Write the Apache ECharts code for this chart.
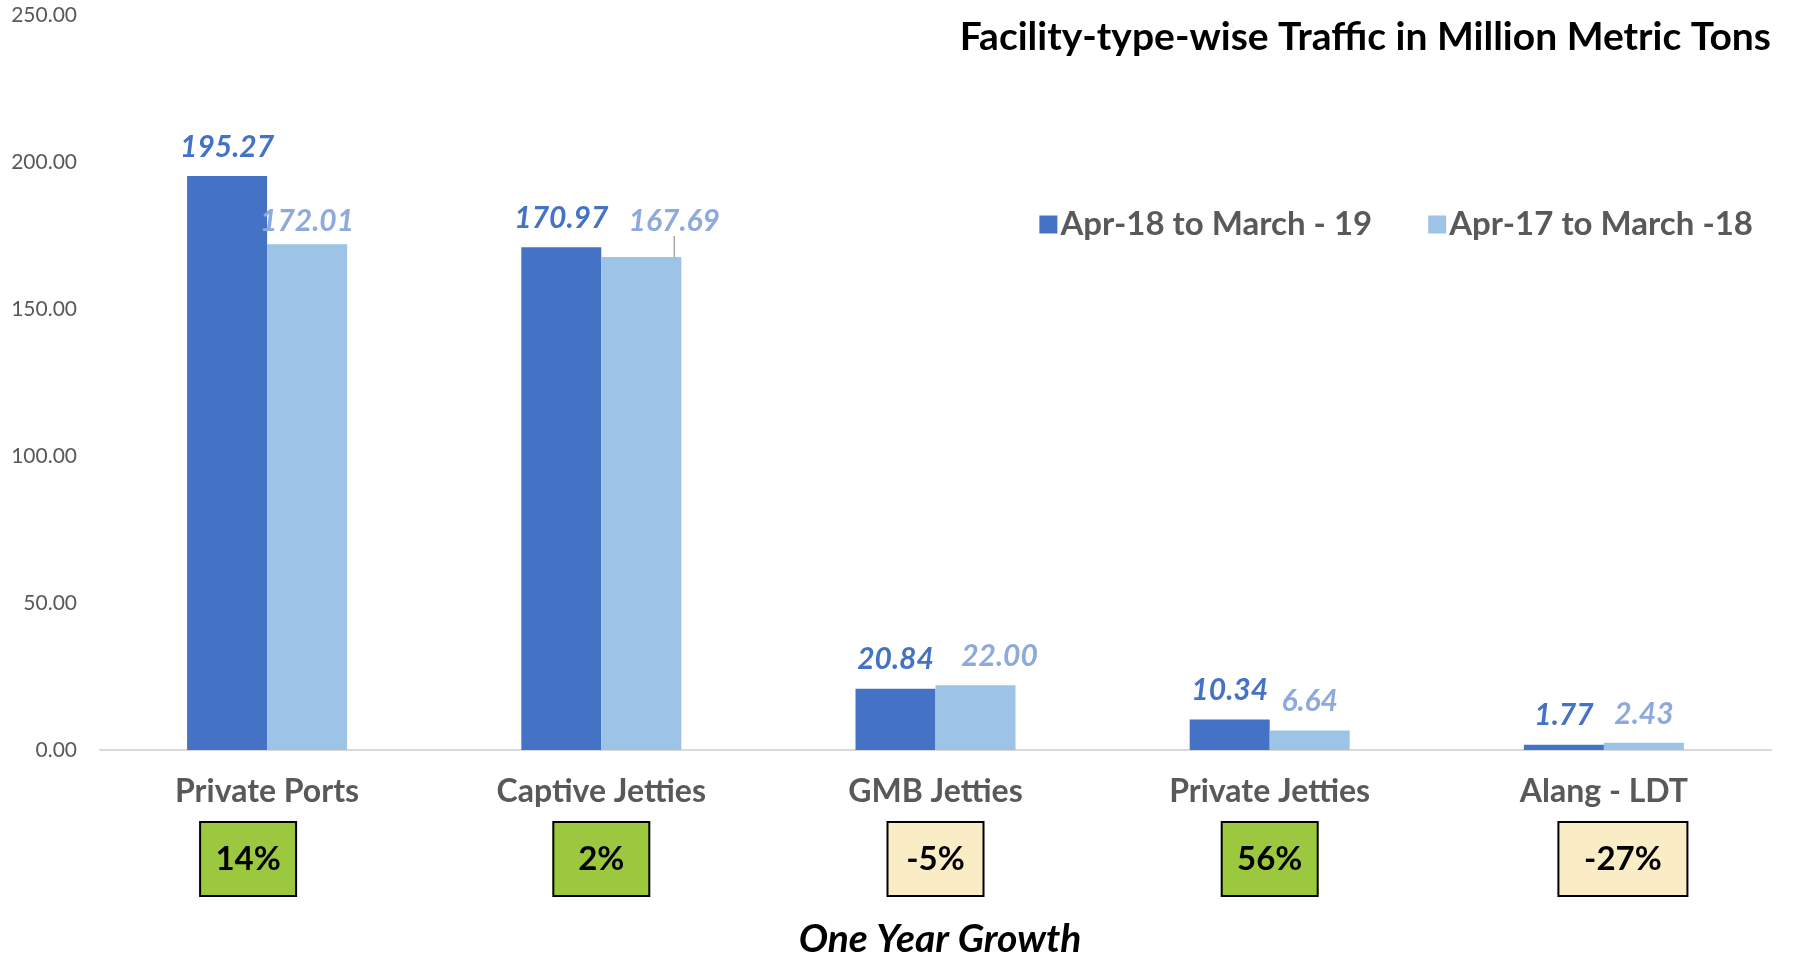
<!DOCTYPE html>
<html>
<head>
<meta charset="utf-8">
<script src="https://cdn.jsdelivr.net/npm/echarts@6/dist/echarts.min.js"></script>
<style>
	html, body { margin: 0; padding: 0; background: #fff; }
	#chart { width: 1794px; height: 954px; }
</style>
</head>
<body>
<div id="chart"></div>
<script>
// chart data
var categories = ['Private Ports', 'Captive Jetties', 'GMB Jetties', 'Private Jetties', 'Alang - LDT'];
var seriesNames = ['Apr-18 to March - 19', 'Apr-17 to March -18'];
var current = [195.27, 170.97, 20.84, 10.34, 1.77];
var previous = [172.01, 167.69, 22.00, 6.64, 2.43];
var growth = ['14%', '2%', '-5%', '56%', '-27%'];
var yTicks = [0, 50, 100, 150, 200, 250];

var FONT = 'Lato';
var darkBlue = '#4472C4', lightBlue = '#9DC3E6';

// growth box label, green when positive, cream when negative
function growthLabel(val, idx) {
	var key = val.charAt(0) == '-' ? (val.length > 3 ? 'w' : 'y') : 'g';
	var txt = '{' + key + '|' + val + '}';
	if (idx == 0) txt = txt + '{s|}';
	if (idx == categories.length - 1) txt = '{s|}' + txt;
	return txt;
}

var boxStyle = function(bg, w) {
	return {
		backgroundColor: bg, borderColor: '#000', borderWidth: 2,
		width: w, height: 72, align: 'center', verticalAlign: 'middle',
		fontFamily: FONT, fontWeight: 'bold', fontSize: 33, color: '#000'
	};
};

// only the Captive Jetties label of the old period has a leader line
var previousData = previous.map(function(v, i) {
	return i == 1 ? { value: v, labelLine: { show: true } } : v;
});

var chart = echarts.init(document.getElementById('chart'));

chart.setOption({
	animation: false,
	backgroundColor: '#fff',
	title: [{
		text: 'Facility-type-wise Traffic in Million Metric Tons',
		right: 18, top: 13,
		textStyle: { fontFamily: FONT, fontWeight: 'bold', fontSize: 39, color: '#000' }
	}, {
		text: 'One Year Growth',
		left: 935, top: 915, textAlign: 'center',
		textStyle: { fontFamily: FONT, fontWeight: 'bold', fontStyle: 'italic', fontSize: 39, color: '#000' }
	}],
	legend: {
		data: seriesNames,
		right: 36, top: 203,
		itemWidth: 18, itemHeight: 18, itemGap: 56,
		icon: 'rect',
		textStyle: { fontFamily: FONT, fontWeight: 'bold', fontSize: 33, color: '#595959', padding: [0, 0, 0, -2] }
	},
	grid: { left: 100, right: 23, top: 15, bottom: 204 },
	xAxis: [{
		type: 'category',
		data: categories,
		axisLine: { lineStyle: { color: '#D9D9D9', width: 2 } },
		axisTick: { show: false },
		axisLabel: { margin: 26, fontFamily: FONT, fontWeight: 'bold', fontSize: 32, color: '#595959' }
	}, {
		type: 'category',
		position: 'bottom',
		data: growth,
		axisLine: { show: false },
		axisTick: { show: false },
		axisLabel: {
			margin: 73,
			formatter: function(v, i) { return growthLabel(v, i); },
			rich: {
				g: boxStyle('#9BC83E', 94),
				y: boxStyle('#FAECC4', 94),
				w: boxStyle('#FAECC4', 127),
				s: { width: 38, height: 72 }
			}
		}
	}],
	yAxis: {
		type: 'value',
		min: 0, max: 250, interval: 50,
		splitLine: { show: false },
		axisLine: { show: false },
		axisTick: { show: false },
		axisLabel: {
			margin: 23,
			fontFamily: FONT, fontSize: 21, color: '#595959',
			formatter: function(v) { return yTicks.indexOf(v) >= 0 ? v.toFixed(2) : ''; }
		}
	},
	series: [{
		name: seriesNames[0],
		type: 'bar',
		data: current,
		barWidth: 80,
		barGap: '0%',
		itemStyle: { color: darkBlue },
		label: {
			show: true, position: 'top', distance: 14,
			fontFamily: FONT, fontWeight: 'bold', fontStyle: 'italic', fontSize: 30, color: darkBlue,
			formatter: function(p) { return p.value.toFixed(2); }
		}
	}, {
		name: seriesNames[1],
		type: 'bar',
		data: previousData,
		barWidth: 80,
		itemStyle: { color: lightBlue },
		label: {
			show: true, position: 'top', distance: 14,
			fontFamily: FONT, fontWeight: 'bold', fontStyle: 'italic', fontSize: 30, color: '#8EA9DB',
			formatter: function(p) { return p.value.toFixed(2); }
		},
		labelLine: { show: false, length2: 0, lineStyle: { color: '#A6A6A6', width: 1.5 } },
		labelLayout: function(p) {
			if (p.dataIndex == 0) return { dy: 6 };
			if (p.dataIndex == 1) return { dx: 33, dy: -7 };
			if (p.dataIndex == 2) return { dx: 24 };
			return {};
		}
	}]
});
</script>
</body>
</html>
